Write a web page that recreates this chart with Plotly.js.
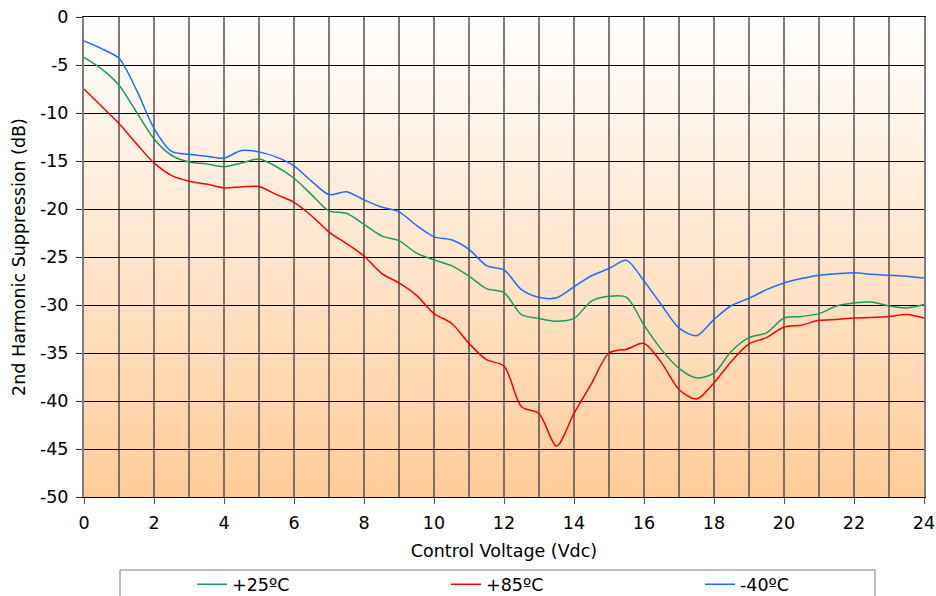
<!DOCTYPE html>
<html>
<head>
<meta charset="utf-8">
<script src="https://cdn.plot.ly/plotly-3.0.1.min.js"></script>
<style>html,body{margin:0;padding:0;background:#fff;}#chart{width:936px;height:596px;}</style>
</head>
<body>
<div id="chart"></div>
<script>
const voltage = [0,0.5,1,1.5,2,2.5,3,3.5,4,4.5,5,5.5,6,6.5,7,7.5,8,8.5,9,9.5,10,10.5,11,11.5,12,12.5,13,13.5,14,14.5,15,15.5,16,16.5,17,17.5,18,18.5,19,19.5,20,20.5,21,21.5,22,22.5,23,23.5,24];
const plus25 = [-4.2,-5.4,-7.1,-9.9,-12.7,-14.4,-15.1,-15.3,-15.6,-15.2,-14.8,-15.6,-16.8,-18.5,-20.2,-20.45,-21.6,-22.8,-23.3,-24.6,-25.3,-25.9,-27.0,-28.3,-28.7,-31.0,-31.4,-31.7,-31.4,-29.6,-29.1,-29.2,-32.1,-34.65,-36.6,-37.6,-37.1,-34.8,-33.4,-32.9,-31.35,-31.2,-30.9,-30.1,-29.8,-29.7,-30.1,-30.3,-29.95];
const plus85 = [-7.5,-9.3,-11.1,-13.2,-15.2,-16.5,-17.1,-17.4,-17.8,-17.7,-17.65,-18.5,-19.3,-20.7,-22.4,-23.6,-24.9,-26.7,-27.7,-29.0,-30.9,-31.9,-34.0,-35.7,-36.35,-40.6,-41.3,-44.7,-41.3,-38.2,-35.0,-34.6,-34.0,-36.0,-38.8,-39.8,-38.1,-35.85,-34.05,-33.4,-32.3,-32.1,-31.6,-31.5,-31.35,-31.3,-31.2,-31.0,-31.35];
const minus40 = [-2.5,-3.3,-4.3,-7.6,-11.6,-14.0,-14.3,-14.5,-14.7,-13.9,-14.05,-14.6,-15.5,-17.1,-18.5,-18.2,-19.05,-19.8,-20.3,-21.7,-22.9,-23.2,-24.2,-25.9,-26.35,-28.4,-29.2,-29.25,-28.1,-26.95,-26.2,-25.35,-27.5,-30.0,-32.4,-33.2,-31.5,-30.05,-29.3,-28.4,-27.7,-27.25,-26.9,-26.75,-26.65,-26.8,-26.9,-27.0,-27.2];
const seriesNames = ['+25ºC','+85ºC','-40ºC'];
const seriesColors = ['#199B5E','#FF0000','#1A6EFF'];
const seriesValues = [plus25, plus85, minus40];
const yTickVals = [0,-5,-10,-15,-20,-25,-30,-35,-40,-45,-50];
const yTickText = ['0','-5','-10','-15','-20','-25','-30','-35','-40','-45','-50'];

// background gradient image
const cv = document.createElement('canvas');
cv.width = 10; cv.height = 480;
const ctx = cv.getContext('2d');
const g = ctx.createLinearGradient(0,0,0,480);
g.addColorStop(0,'#FFFFFF');
g.addColorStop(1,'#FFCC99');
ctx.fillStyle = g; ctx.fillRect(0,0,10,480);
const bgURL = cv.toDataURL('image/png');

const FONT = 'DejaVu Sans, Verdana, sans-serif';
const GRIDV = 'rgba(70,70,70,0.7)';
const legendIds = ['legend','legend2','legend3'];

const traces = seriesValues.map((vals,i)=>({
  x: voltage, y: vals, type:'scatter', mode:'lines', name: seriesNames[i],
  legend: legendIds[i],
  line:{color: seriesColors[i], width:1.5, shape:'spline', smoothing:0.8}
}));

function legendAt(px){
  return {orientation:'h', x:(px-84)/840, xanchor:'left', y:-0.1445, yanchor:'top',
    bgcolor:'rgba(0,0,0,0)', borderwidth:0,
    font:{family:FONT, size:17.5, color:'#000'}};
}

const layout = {
  width:936, height:596,
  margin:{l:84, r:12, t:17, b:99, autoexpand:false},
  paper_bgcolor:'#FFFFFF', plot_bgcolor:'#FFFFFF',
  font:{family:FONT, size:17.5, color:'#000'},
  images:[{source:bgURL, xref:'paper', yref:'paper', x:0, y:1, sizex:1, sizey:1, sizing:'stretch', xanchor:'left', yanchor:'top', layer:'below'}],
  xaxis:{
    range:[0,24], tick0:0, dtick:2, ticks:'outside', ticklen:6, tickcolor:'#555', tickwidth:1,
    ticklabelstandoff:4,
    showgrid:true, gridcolor:GRIDV, gridwidth:2,
    minor:{dtick:1, showgrid:true, gridcolor:GRIDV, gridwidth:2, ticks:''},
    zeroline:false, showline:true, linecolor:'#000', linewidth:1, mirror:true,
    tickfont:{family:FONT, size:17.5, color:'#000'},
    title:{text:'Control Voltage (Vdc)', font:{family:FONT, size:17.5, color:'#000'}, standoff:12},
    automargin:false, fixedrange:true
  },
  yaxis:{
    range:[-50,0], tickmode:'array', tickvals:yTickVals, ticktext:yTickText,
    ticks:'outside', ticklen:6, tickcolor:'#333', tickwidth:1,
    ticklabelstandoff:4,
    showgrid:true, gridcolor:'#000', gridwidth:1,
    zeroline:false, showline:true, linecolor:GRIDV, linewidth:2, mirror:true,
    tickfont:{family:FONT, size:17.5, color:'#000'},
    title:{text:'2nd Harmonic Suppression (dB)', font:{family:FONT, size:17.5, color:'#000'}, standoff:10},
    automargin:false, fixedrange:true
  },
  showlegend:true,
  legend: legendAt(192),
  legend2: legendAt(446),
  legend3: legendAt(700),
  shapes:[{type:'rect', xref:'paper', yref:'paper', x0:(120-84)/840, x1:(875-84)/840, y0:-(570-497)/480, y1:-(610-497)/480,
    line:{color:'#7F7F7F', width:1}, fillcolor:'rgba(0,0,0,0)', layer:'above'}]
};

Plotly.newPlot('chart', traces, layout, {displayModeBar:false, staticPlot:true});
</script>
</body>
</html>
